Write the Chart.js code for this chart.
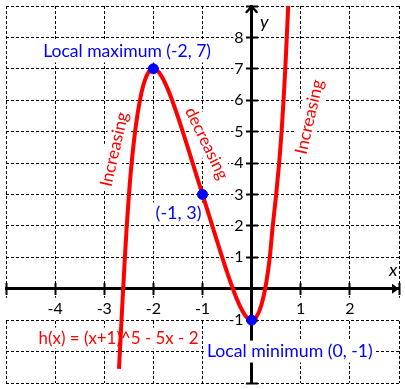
<!DOCTYPE html>
<html><head><meta charset="utf-8">
<script src="https://cdn.jsdelivr.net/npm/chart.js@4/dist/chart.umd.min.js"></script>
<style>html,body{margin:0;padding:0;background:#fff;overflow:hidden}#wrap{width:405px;height:389px;position:relative}</style>
</head><body><div id="wrap"><canvas id="c"></canvas></div>
<script>
// ---- data ----
const curveX = [-2.70,-2.68,-2.65,-2.62,-2.58,-2.54,-2.49,-2.43,-2.36,-2.28,-2.2,-2.1,-2.0,-1.9,-1.8,-1.7,-1.6,-1.5,-1.4,-1.3,-1.2,-1.1,-1.0,-0.9,-0.8,-0.7,-0.6,-0.5,-0.4,-0.3,-0.2,-0.1,0.0,0.1,0.2,0.3,0.37,0.43,0.5,0.56,0.61,0.65,0.685,0.715,0.745,0.76];
const curveY = [-2.55,-1.95,-1.05,-0.15,1.0,2.05,3.15,4.2,5.15,5.95,6.5,6.89,7.0,6.91,6.67,6.33,5.92,5.47,4.99,4.5,4.0,3.5,3.0,2.5,2.0,1.5,1.01,0.53,0.08,-0.33,-0.67,-0.91,-1.0,-0.89,-0.51,0.21,1.0,2.0,3.0,4.0,5.0,6.0,7.0,8.0,9.0,9.5];
const keyX = [-2,-1,0];
const keyY = [7,3,-1];
const xTickLabels = [-4,-3,-2,-1,1,2];
const yTickLabels = [-1,1,2,3,4,5,6,7,8];
const xRange = [-5,3];
const yRange = [-3,9];

// ---- annotations (text, anchor in data units) ----
const notes = [
  {text:'Local maximum (-2, 7)', x:-2.535, y:7.55, w:168, rot:0, color:'#0000ff'},
  {text:'(-1, 3)', x:-1.487, y:2.39, w:46, rot:0, color:'#0000ff'},
  {text:'Local minimum (0, -1)', x:0.778, y:-2.0, w:166, rot:0, color:'#0000ff'},
  {text:'h(x) = (x+1)^5 - 5x - 2', x:-2.71, y:-1.57, w:160, rot:0, color:'#ff0000'},
  {text:'Increasing', x:-2.794, y:4.44, w:76, rot:-77, color:'#ff0000'},
  {text:'decreasing', x:-0.918, y:4.63, w:78, rot:64, color:'#ff0000'},
  {text:'Increasing', x:1.178, y:5.47, w:76, rot:-77, color:'#ff0000'}
];
const FONT = 'Lato, "Open Sans", sans-serif';

const pts = curveX.map((x,i)=>({x, y: curveY[i]}));
const keyPts = keyX.map((x,i)=>({x, y: keyY[i]}));

const zeroPad = s => { s.paddingLeft = s.paddingRight = s.paddingTop = s.paddingBottom = 0; };

const gridCommon = {color:'#000', lineWidth:1, tickColor:'#000', tickWidth:2, tickBorderDash:[], tickLength:6};
const tickOnly = (axis, range, len) => ({
  type:'linear', axis, min:range[0], max:range[1], position: axis === 'x' ? {y:0} : {x:0},
  afterFit: zeroPad,
  ticks:{stepSize:1, display:false},
  grid:{...gridCommon, tickLength:len, drawOnChartArea:false, z:-0.2},
  border:{display:false}
});

const annot = {
  id:'annot',
  beforeDatasetsDraw(chart){
    const ctx = chart.ctx, xs = chart.scales.x, ys = chart.scales.y;
    ctx.save();
    notes.forEach(n=>{
      ctx.font = `16px ${FONT}`;
      const m = ctx.measureText(n.text).width;
      const size = 16 * n.w / m;
      ctx.font = `${size}px ${FONT}`;
      const px = xs.getPixelForValue(n.x), py = ys.getPixelForValue(n.y);
      ctx.save();
      ctx.translate(px, py);
      ctx.rotate(n.rot*Math.PI/180);
      ctx.fillStyle = '#fff';
      ctx.fillRect(-n.w/2-3, -size*0.62, n.w+6, size*1.24);
      ctx.fillStyle = n.color;
      ctx.textAlign = 'center';
      ctx.textBaseline = 'middle';
      ctx.fillText(n.text, 0, 0);
      ctx.restore();
    });
    // axis names
    ctx.fillStyle = '#000';
    ctx.font = `italic 18px ${FONT}`;
    ctx.textAlign = 'center'; ctx.textBaseline = 'middle';
    ctx.fillText('x', xs.getPixelForValue(2.88), ys.getPixelForValue(0.59));
    ctx.fillText('y', xs.getPixelForValue(0.26), ys.getPixelForValue(8.5));
    // arrows
    const x0 = xs.getPixelForValue(0), y0 = ys.getPixelForValue(0);
    const ca = chart.chartArea;
    ctx.strokeStyle = '#000'; ctx.lineWidth = 2.5; ctx.lineCap='round';
    ctx.beginPath();
    ctx.moveTo(x0-5, ca.top+6); ctx.lineTo(x0, ca.top+0.5); ctx.lineTo(x0+5, ca.top+6);
    ctx.stroke();
    ctx.fillStyle = '#000';
    ctx.beginPath();
    ctx.moveTo(ca.right-7, y0-5); ctx.lineTo(ca.right, y0); ctx.lineTo(ca.right-7, y0+5); ctx.closePath();
    ctx.fill();
    ctx.restore();
  }
};

new Chart(document.getElementById('c'), {
  type:'scatter',
  data:{datasets:[
    {data:keyPts, pointRadius:5, pointHoverRadius:5, backgroundColor:'#0000ff', borderColor:'#0000ff', showLine:false, order:0},
    {data:pts, showLine:true, borderColor:'#ff0000', borderWidth:4, pointRadius:0, cubicInterpolationMode:'monotone', fill:false, order:1}
  ]},
  options:{
    responsive:true, maintainAspectRatio:false, animation:false,
    devicePixelRatio:1,
    layout:{padding:{left:2, right:1.5, top:1, bottom:1}},
    plugins:{legend:{display:false}, tooltip:{enabled:false}},
    events:[],
    scales:{
      x:{type:'linear', min:xRange[0], max:xRange[1], position:{y:0},
         afterFit: zeroPad,
         ticks:{stepSize:1, autoSkip:false, maxRotation:0, padding:10, color:'#000', font:{family:FONT, size:16},
                showLabelBackdrop:true, backdropColor:'#fff', backdropPadding:1,
                callback:v=> xTickLabels.includes(v) ? String(v) : ''},
         grid:{...gridCommon, drawTicks:false},
         border:{display:true, color:'#000', width:3, dash:[3,2]}},
      y:{type:'linear', min:yRange[0], max:yRange[1], position:{x:0},
         afterFit: zeroPad,
         ticks:{stepSize:1, autoSkip:false, padding:6, color:'#000', font:{family:FONT, size:16}, z:-0.5,
                showLabelBackdrop:true, backdropColor:'#fff', backdropPadding:1,
                callback:v=> yTickLabels.includes(v) ? String(v) + '\u2002' : ''},
         grid:{...gridCommon, drawTicks:false},
         border:{display:true, color:'#000', width:3, dash:[3,2]}},
      xTickDown: tickOnly('x', xRange, 6),
      xTickUp: tickOnly('x', xRange, -6),
      yTickLeft: tickOnly('y', yRange, 6),
      yTickRight: tickOnly('y', yRange, -6)
    }
  },
  plugins:[annot]
});
</script></body></html>
